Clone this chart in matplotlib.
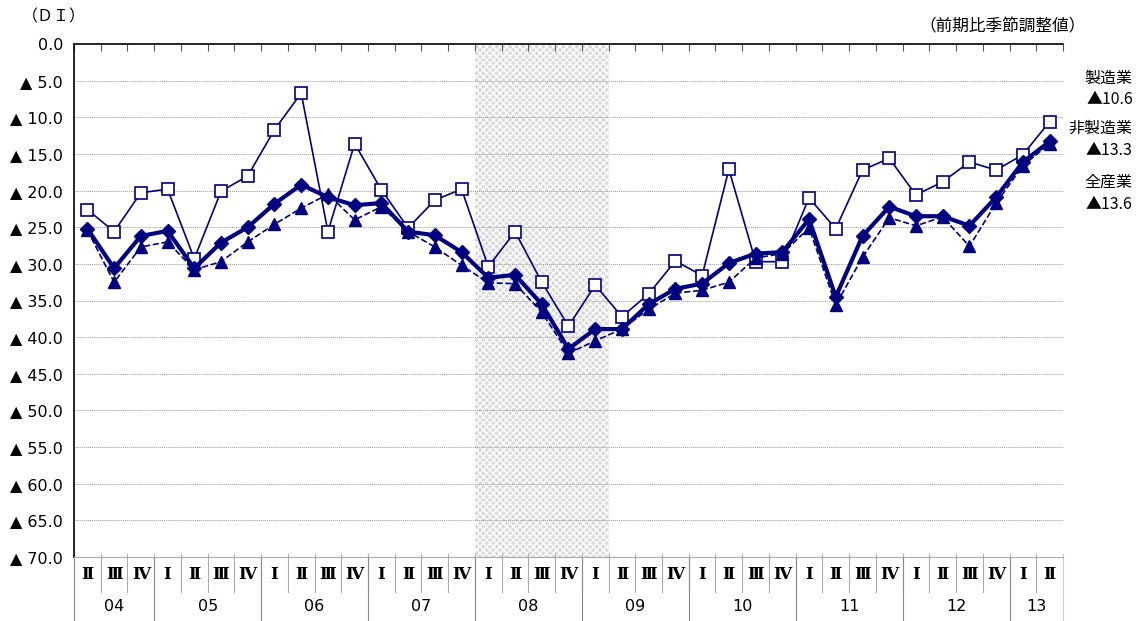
import matplotlib.pyplot as plt
import matplotlib.transforms as mtransforms

plt.rcParams['font.family'] = ['Noto Sans CJK JP', 'DejaVu Sans']

quarters = ['Ⅱ', 'Ⅲ', 'Ⅳ'] + ['Ⅰ', 'Ⅱ', 'Ⅲ', 'Ⅳ'] * 8 + ['Ⅰ', 'Ⅱ']
years = ['04', '05', '06', '07', '08', '09', '10', '11', '12', '13']
year_len = [3, 4, 4, 4, 4, 4, 4, 4, 4, 2]

# 製造業 (squares)
manuf = [-22.6, -25.6, -20.3, -19.8, -29.3, -20.1, -18.0, -11.7, -6.7, -25.6,
         -13.6, -19.9, -25.1, -21.3, -19.8, -30.4, -25.6, -32.5, -38.5, -32.9,
         -37.2, -34.1, -29.6, -31.6, -17.1, -29.7, -29.7, -21.0, -25.2, -17.2,
         -15.6, -20.6, -18.8, -16.1, -17.2, -15.1, -10.6]
# diamonds, thick line
all_ind = [-25.2, -30.6, -26.2, -25.5, -30.6, -27.1, -25.0, -21.8, -19.2, -20.9,
           -22.0, -21.7, -25.6, -26.1, -28.4, -31.9, -31.5, -35.5, -41.6, -38.9,
           -38.9, -35.5, -33.4, -32.7, -29.9, -28.6, -28.4, -23.9, -34.5, -26.2,
           -22.2, -23.5, -23.5, -24.8, -20.9, -16.1, -13.3]
# triangles, dashed line
nonmanuf = [-25.4, -32.5, -27.7, -27.0, -30.8, -29.7, -27.0, -24.6, -22.4, -20.5,
            -24.0, -22.2, -25.6, -27.7, -30.2, -32.6, -32.7, -36.6, -42.2, -40.5,
            -38.9, -36.2, -34.0, -33.6, -32.5, -29.2, -28.6, -25.1, -35.6, -29.1,
            -23.7, -24.8, -23.6, -27.6, -21.7, -16.6, -13.6]

navy = '#000080'
x = list(range(len(quarters)))

fig = plt.figure(figsize=(11.42, 6.21), dpi=100)
ax = fig.add_axes([0.0648, 0.1031, 0.866, 0.826])

# shaded recession period (08 I - 09 I)
ax.axvspan(14.5, 19.5, facecolor='#d9d9d9', edgecolor='white', hatch='xxxxx', linewidth=0, zorder=0)

for v in range(-65, 0, 5):
    ax.axhline(v, color='#999999', lw=0.7, ls=(0, (1, 1)), zorder=1)

ax.plot(x, manuf, color=navy, lw=1.2, marker='s', ms=8, mfc='white', mec=navy, mew=1.2, zorder=3)
ax.plot(x, nonmanuf, color=navy, lw=1.2, ls='--', marker='^', ms=8, zorder=4)
ax.plot(x, all_ind, color=navy, lw=3, marker='D', ms=7, zorder=5)

ax.set_xlim(-0.5, len(quarters) - 0.5)
ax.set_ylim(-70, 0)
ax.set_yticks(range(-70, 1, 5))
ax.set_yticklabels(['0.0' if v == 0 else '▲ %.1f' % abs(v) for v in range(-70, 1, 5)],
                   fontsize=11.5, family=['DejaVu Sans'])
ax.tick_params(axis='y', length=0, pad=8)

ax.set_xticks([i - 0.5 for i in range(len(quarters) + 1)])
ax.set_xticklabels([])
ax.tick_params(axis='x', which='both', top=True, bottom=False, direction='in', length=5, color='#555555')

ax.spines['right'].set_visible(False)
ax.spines['bottom'].set_color('#aaaaaa')
ax.spines['bottom'].set_linewidth(0.8)
ax.spines['top'].set_linewidth(1.2)
ax.spines['left'].set_linewidth(1.2)

# category table under the plot
trans = mtransforms.blended_transform_factory(ax.transData, ax.transAxes)
for i, q in enumerate(quarters):
    ax.text(i, -0.035, q, transform=trans, ha='center', va='center', fontsize=12,
            fontweight='bold', family=['DejaVu Serif', 'Noto Sans CJK JP'])
    ax.plot([i - 0.5, i - 0.5], [0.005, -0.068], transform=trans, color='#aaaaaa', lw=0.8, clip_on=False)
ax.plot([len(quarters) - 0.5] * 2, [0.005, -0.125], transform=trans, color='#cccccc', lw=0.8, clip_on=False)

start = 0
for y, n in zip(years, year_len):
    ax.text(start + n / 2 - 0.5, -0.097, y, transform=trans, ha='center', va='center', fontsize=11.5,
            family=['DejaVu Sans'])
    ax.plot([start - 0.5, start - 0.5], [0, -0.125], transform=trans, color='#888888', lw=0.8, clip_on=False)
    start += n

fig.text(0.019, 0.972, '（ＤＩ）', fontsize=11.5, ha='left', va='center')
fig.text(0.951, 0.957, '（前期比季節調整値）', fontsize=12, ha='right', va='center')

side = [('製造業', 0.874), ('▲10.6', 0.839), ('非製造業', 0.794), ('▲13.3', 0.758),
        ('全産業', 0.707), ('▲13.6', 0.671)]
for t, yy in side:
    fig.text(0.992, yy, t, fontsize=11.5, ha='right', va='center')

fig.savefig('out.png', dpi=100)
